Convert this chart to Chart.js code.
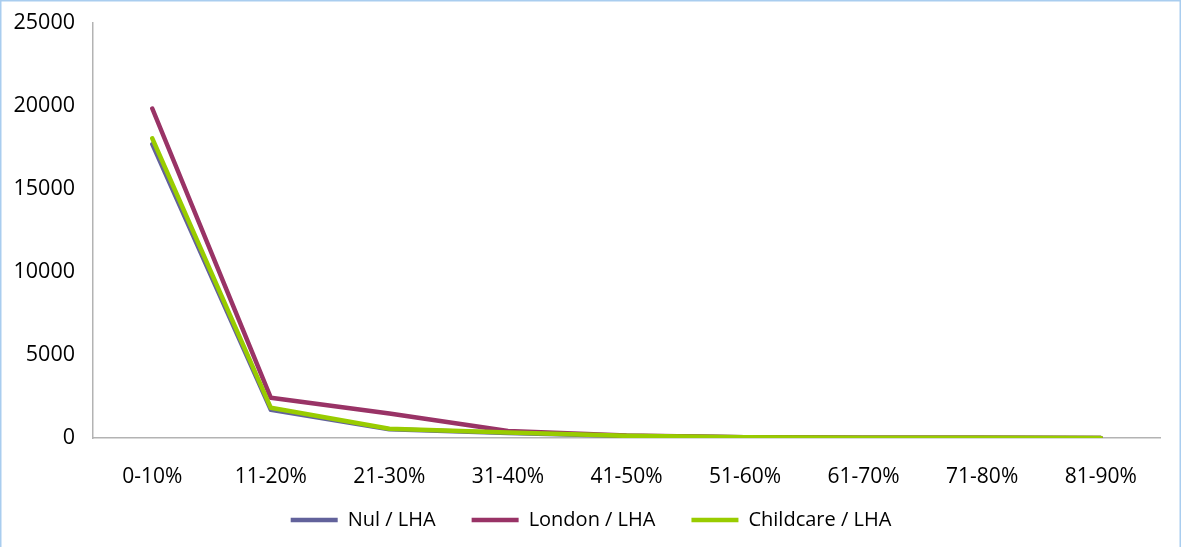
<!DOCTYPE html>
<html><head><meta charset="utf-8">
<script src="https://cdn.jsdelivr.net/npm/chart.js@4"></script>
<style>html,body{margin:0;padding:0;background:#fff}#wrap{position:relative;width:1182px;height:547px}canvas{display:block}</style>
</head><body><div id="wrap"><canvas id="c" width="1182" height="547"></canvas></div>
<script>
const categories = ['0-10%','11-20%','21-30%','31-40%','41-50%','51-60%','61-70%','71-80%','81-90%'];
const nulLHA = [17700, 1700, 520, 300, 120, 40, 15, 8, 3];
const londonLHA = [19850, 2420, 1480, 420, 150, 50, 20, 10, 4];
const childcareLHA = [18050, 1820, 560, 330, 130, 45, 18, 9, 3];
const yTicks = [0, 5000, 10000, 15000, 20000, 25000];

const borderPlugin = {
  id: 'outerBorder',
  afterDraw(chart) {
    const ctx = chart.ctx;
    ctx.save();
    ctx.strokeStyle = '#a9cdef';
    ctx.lineWidth = 1.5;
    ctx.strokeRect(0.75, 0.75, chart.width - 2.5, chart.height + 5);
    ctx.restore();
  }
};

const common = {borderWidth: 4.5, pointRadius: 0, pointHoverRadius: 0, pointStyle: 'line', borderCapStyle: 'round', borderJoinStyle: 'round', tension: 0};

new Chart(document.getElementById('c'), {
  type: 'line',
  data: {
    labels: categories,
    datasets: [
      Object.assign({label: 'Nul / LHA', data: nulLHA, borderColor: '#62629b', backgroundColor: '#62629b', order: 3}, common),
      Object.assign({label: 'London / LHA', data: londonLHA, borderColor: '#993366', backgroundColor: '#993366', order: 2}, common),
      Object.assign({label: 'Childcare / LHA', data: childcareLHA, borderColor: '#99cc00', backgroundColor: '#99cc00', order: 1}, common)
    ]
  },
  options: {
    responsive: false,
    animation: false,
    devicePixelRatio: 1,
    layout: {padding: {top: 1, right: 0, bottom: 7, left: 0}},
    plugins: {
      legend: {
        position: 'bottom',
        labels: {
          sort: (a, b) => a.datasetIndex - b.datasetIndex,
          usePointStyle: true, pointStyleWidth: 47, boxHeight: 4,
          padding: 36, color: '#000', font: {family: 'Open Sans', size: 20}
        }
      },
      tooltip: {enabled: false}
    },
    scales: {
      x: {
        offset: true,
        grid: {display: false, drawTicks: false},
        border: {color: '#b3b3b3', width: 1.5},
        ticks: {color: '#000', padding: 26, font: {family: 'Open Sans', size: 21}},
        afterFit(s) { s.height = 36; s._computeLabelArea = () => undefined; }
      },
      y: {
        min: 0, max: 25000,
        afterBuildTicks(s) { s.ticks = yTicks.map(v => ({value: v})); },
        grid: {display: false, drawTicks: false},
        border: {color: '#b3b3b3', width: 1.5},
        ticks: {color: '#000', padding: 18, font: {family: 'Open Sans', size: 21.5}, callback: v => String(v)},
        afterFit(s) { s.width = 93; s.paddingTop = 23; s.paddingBottom = 0; }
      },
      y2: {
        position: 'right',
        grid: {display: false, drawTicks: false},
        border: {display: false},
        ticks: {display: false},
        afterFit(s) { s.width = 22; }
      }
    }
  },
  plugins: [borderPlugin]
});
</script></body></html>
